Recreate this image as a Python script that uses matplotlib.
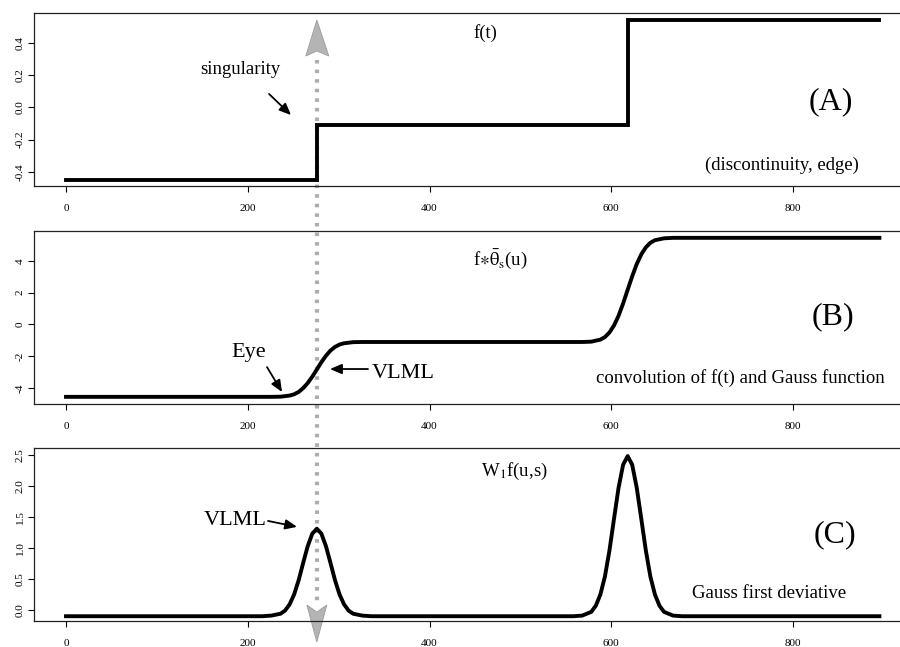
import numpy as np
import matplotlib
matplotlib.use("Agg")
from matplotlib import pyplot as plt, patches
from matplotlib.lines import Line2D
from matplotlib.transforms import blended_transform_factory

plt.rcParams['font.family'] = ['Liberation Serif', 'DejaVu Serif']
plt.rcParams['mathtext.fontset'] = 'stix'

# (A) step signal f(t): three levels, two jumps
step_x = [0, 276, 276, 618, 618, 895]
step_y = [-0.45, -0.45, -0.11, -0.11, 0.54, 0.54]
singular_x = 276

# (B) f convolved with a gaussian
smooth_x = [0, 226, 236, 246, 251, 256, 261, 266, 271, 276, 281, 286, 291, 296, 301, 306,
            316, 326, 568, 578, 588, 593, 598, 603, 608, 613, 618, 623, 628, 633, 638, 643,
            648, 658, 668, 895]
smooth_y = [-4.55, -4.55, -4.54, -4.47, -4.39, -4.24, -4.00, -3.68, -3.28, -2.83, -2.37,
            -1.97, -1.64, -1.41, -1.26, -1.18, -1.11, -1.10, -1.10, -1.08, -0.95, -0.79,
            -0.50, -0.06, 0.55, 1.32, 2.18, 3.03, 3.80, 4.41, 4.85, 5.14, 5.30, 5.42, 5.45,
            5.45]

# (C) wavelet transform W1 f(u,s)
wav_x = [0, 216, 226, 236, 241, 246, 251, 256, 261, 266, 271, 276, 281, 286, 291, 296, 301,
         306, 311, 316, 326, 336, 558, 568, 578, 583, 588, 593, 598, 603, 608, 613, 618, 623,
         628, 633, 638, 643, 648, 653, 658, 668, 678, 895]
wav_y = [-0.10, -0.10, -0.09, -0.06, -0.01, 0.09, 0.25, 0.48, 0.76, 1.03, 1.23, 1.31, 1.23,
         1.03, 0.76, 0.48, 0.25, 0.09, -0.01, -0.06, -0.09, -0.10, -0.10, -0.09, -0.03, 0.07,
         0.25, 0.54, 0.96, 1.47, 1.97, 2.34, 2.48, 2.34, 1.97, 1.47, 0.96, 0.54, 0.25, 0.07,
         -0.03, -0.09, -0.10, -0.10]

fig = plt.figure(figsize=(9, 6.47), dpi=100, facecolor='white')

x_lo, x_hi = -35.2, 930
left, right = 34 / 900, 911.2 / 900
rows = [(13, 186), (231, 404), (448, 621)]
axes = []
for top, bot in rows:
    ax = fig.add_axes([left, 1 - bot / 647, right - left, (bot - top) / 647])
    ax.patch.set_alpha(0)   # transparent so the marker line behind shows through
    ax.set_xlim(x_lo, x_hi)
    ax.set_xticks([0, 200, 400, 600, 800])
    ax.tick_params(direction='out', length=4, width=0.8, labelsize=8)
    ax.tick_params(axis='x', pad=9)
    ax.tick_params(axis='y', pad=2.5)
    for s in ax.spines.values():
        s.set_linewidth(0.9)
        s.set_color('#222222')
    axes.append(ax)
axA, axB, axC = axes

axA.plot(step_x, step_y, color='black', lw=2.8, solid_joinstyle='miter')
axA.set_ylim(-0.487, 0.586)
axA.set_yticks([-0.4, -0.2, 0.0, 0.2, 0.4])
axA.set_yticklabels(['-0.4', '-0.2', '0.0', '0.2', '0.4'], rotation=90, va='center')

axB.plot(smooth_x, smooth_y, color='black', lw=2.8)
axB.set_ylim(-5.0, 5.88)
axB.set_yticks([-4, -2, 0, 2, 4])
axB.set_yticklabels(['-4', '-2', '0', '2', '4'], rotation=90, va='center')

axC.plot(wav_x, wav_y, color='black', lw=2.8)
axC.set_ylim(-0.177, 2.61)
axC.set_yticks([0.0, 0.5, 1.0, 1.5, 2.0, 2.5])
axC.set_yticklabels(['0.0', '0.5', '1.0', '1.5', '2.0', '2.5'], rotation=90, va='center')

arrow = dict(arrowstyle='-|>,head_length=0.7,head_width=0.3', color='black', lw=1.3,
             shrinkA=0, shrinkB=0)

# panel A labels
axA.text(461, 0.462, 'f(t)', fontsize=13.5, ha='center', va='center')
axA.text(842, 0.034, '(A)', fontsize=23, ha='center', va='center')
axA.text(788, -0.357, '(discontinuity, edge)', fontsize=13.5, ha='center', va='center')
axA.text(191.5, 0.233, 'singularity', fontsize=13.5, ha='center', va='center')
axA.annotate('', xy=(247.6, -0.047), xytext=(223.4, 0.084), arrowprops=arrow)

# panel B labels
axB.text(477.6, 4.13, r'f$\ast\bar{\mathrm{\theta}}_{\mathrm{s}}$(u)', fontsize=13.5,
         ha='center', va='center')
axB.text(844, 0.47, '(B)', fontsize=23, ha='center', va='center')
axB.text(741.6, -3.37, 'convolution of f(t) and Gauss function', fontsize=13.5,
         ha='center', va='center')
axB.text(201.4, -1.73, 'Eye', fontsize=16, ha='center', va='center')
axB.annotate('', xy=(237.7, -4.25), xytext=(221.2, -2.68), arrowprops=arrow)
axB.text(370.8, -3.06, 'VLML', fontsize=16, ha='center', va='center')
axB.annotate('', xy=(290.5, -2.80), xytext=(332.3, -2.80), arrowprops=arrow)

# panel C labels
axC.text(493, 2.24, r'W$_1$f(u,s)', fontsize=13.5, ha='center', va='center')
axC.text(846, 1.21, '(C)', fontsize=23, ha='center', va='center')
axC.text(773.5, 0.258, 'Gauss first deviative', fontsize=13.5, ha='center', va='center')
axC.text(186, 1.45, 'VLML', fontsize=16, ha='center', va='center')
axC.annotate('', xy=(254.2, 1.34), xytext=(222.3, 1.435), arrowprops=arrow)

# dotted marker through all three panels at the singularity, drawn under the curves
trans = blended_transform_factory(axA.transData, fig.transFigure)
fy = lambda py: 1 - py / 647
dx = 0.9088
fig.add_artist(Line2D([singular_x, singular_x], [fy(60), fy(606)], transform=trans,
                      color='#adadad', lw=3, linestyle=(0, (0.85, 1.45)), zorder=-1))
fig.add_artist(patches.Polygon(
    [(singular_x, fy(20)), (singular_x + 12 / dx, fy(56)), (singular_x, fy(51)),
     (singular_x - 11 / dx, fy(56))],
    closed=True, transform=trans, facecolor='#b4b4b4', edgecolor='#9c9c9c', lw=0.6, zorder=-1))
fig.add_artist(patches.Polygon(
    [(singular_x - 10 / dx, fy(605)), (singular_x, fy(612)), (singular_x + 10 / dx, fy(605)),
     (singular_x, fy(642))],
    closed=True, transform=trans, facecolor='#b4b4b4', edgecolor='#9c9c9c', lw=0.6, zorder=-1))

fig.savefig('out.png', dpi=100, facecolor='white')
